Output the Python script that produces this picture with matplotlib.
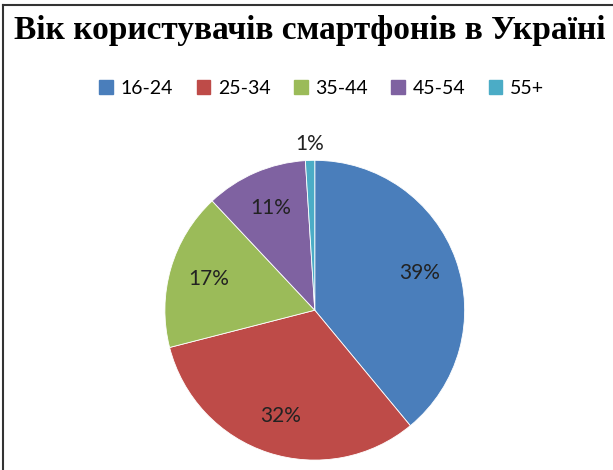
import matplotlib.pyplot as plt
import numpy as np
from matplotlib.lines import Line2D

# Дані
groups = ["16-24", "25-34", "35-44", "45-54", "55+"]
shares = [39, 32, 17, 11, 1]
colors = ["#4A7EBB", "#BE4B48", "#9BBB59", "#7F62A1", "#4BACC6"]
title = "Вік користувачів смартфонів в Україні"

fig = plt.figure(figsize=(6.13, 4.70), dpi=100)
fig.patch.set_facecolor("white")

# рамка зліва та зверху
fig.add_artist(Line2D([0.005, 0.005], [0, 0.989], color="#333333", lw=1.5))
fig.add_artist(Line2D([0.005, 1.0], [0.989, 0.989], color="#333333", lw=1.5))

fig.text(0.505, 0.935, title, ha="center", va="center", fontsize=24,
         fontweight="bold", family="Liberation Serif")

ax = fig.add_axes([0.269, 0.021, 0.489, 0.638])
wedges, _, autotexts = ax.pie(shares, colors=colors, startangle=90, counterclock=False,
                              autopct="%d%%", pctdistance=0.74,
                              wedgeprops=dict(linewidth=0.6, edgecolor="white"),
                              textprops=dict(fontsize=15, color="#222222", family="Lato"))
ax.set_xlim(-1, 1)
ax.set_ylim(-1, 1)
ax.set_aspect("equal")

# маленький сектор - підпис ззовні
w = wedges[-1]
ang = np.deg2rad((w.theta1 + w.theta2) / 2)
autotexts[-1].set_position((1.11 * np.cos(ang), 1.11 * np.sin(ang)))

handles = [plt.Rectangle((0, 0), 1, 1, color=c) for c in colors]
fig.legend(handles, groups, loc="center", bbox_to_anchor=(0.525, 0.812), ncol=5,
           frameon=False, handlelength=0.7, handleheight=0.7, handletextpad=0.4,
           columnspacing=1.2, prop=dict(family="Lato", size=14))

plt.savefig("out.png", dpi=100)
